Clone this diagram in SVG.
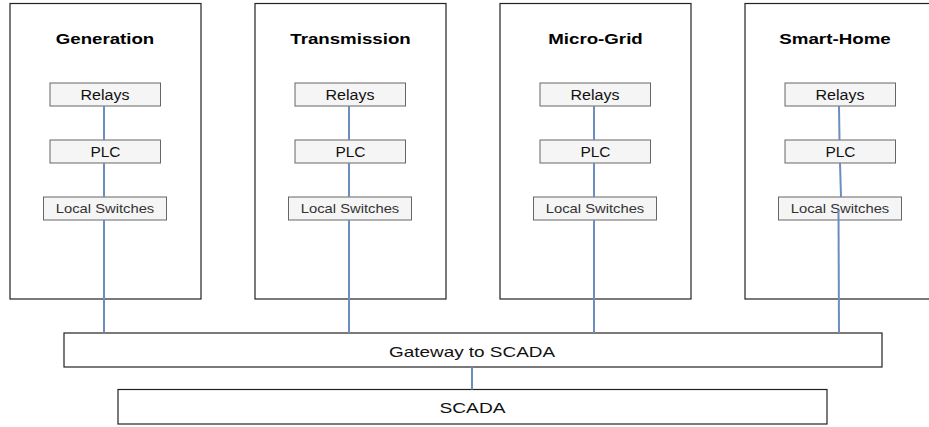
<svg xmlns="http://www.w3.org/2000/svg" width="929" height="427" viewBox="0 0 929 427">
<style>
.zone{fill:#fff;stroke:#222;stroke-width:1.2}
.dev{fill:#f5f5f5;stroke:#666;stroke-width:1}
.bar{fill:#fff;stroke:#222;stroke-width:1.2}
text{font-family:"Liberation Sans",Arial,sans-serif;text-anchor:middle}
.title{font-size:15px;font-weight:bold;fill:#000}
.lbl{font-size:14px;fill:#111}
.sm{font-size:13.5px;fill:#333}
.big{font-size:15px;fill:#111}
.link{stroke:#6c8ebf;stroke-width:2;fill:none}
</style>
<rect width="929" height="427" fill="#fff"/>
<g id="generation">
<rect class="zone" x="10" y="3.5" width="191" height="295.5"/>
<text class="title" x="105" y="43.5" textLength="98.5" lengthAdjust="spacingAndGlyphs">Generation</text>
</g>
<g id="generation-relays"><rect class="dev" x="50" y="83" width="110.5" height="23"/><text class="lbl" x="105" y="100" textLength="49" lengthAdjust="spacingAndGlyphs">Relays</text></g>
<g id="generation-plc"><rect class="dev" x="50" y="140" width="110.5" height="23"/><text class="lbl" x="105.5" y="157" textLength="30" lengthAdjust="spacingAndGlyphs">PLC</text></g>
<g id="generation-switches"><rect class="dev" x="43.5" y="197" width="123" height="23"/><text class="sm" x="105" y="213.3" textLength="98.5" lengthAdjust="spacingAndGlyphs">Local Switches</text></g>

<g id="transmission">
<rect class="zone" x="255" y="3.5" width="191" height="295.5"/>
<text class="title" x="350.5" y="43.5" textLength="120.5" lengthAdjust="spacingAndGlyphs">Transmission</text>
</g>
<g id="transmission-relays"><rect class="dev" x="295" y="83" width="110.5" height="23"/><text class="lbl" x="350" y="100" textLength="49" lengthAdjust="spacingAndGlyphs">Relays</text></g>
<g id="transmission-plc"><rect class="dev" x="295" y="140" width="110.5" height="23"/><text class="lbl" x="350.5" y="157" textLength="30" lengthAdjust="spacingAndGlyphs">PLC</text></g>
<g id="transmission-switches"><rect class="dev" x="288.5" y="197" width="123" height="23"/><text class="sm" x="350" y="213.3" textLength="98.5" lengthAdjust="spacingAndGlyphs">Local Switches</text></g>

<g id="microgrid">
<rect class="zone" x="500" y="3.5" width="191" height="295.5"/>
<text class="title" x="595.5" y="43.5" textLength="94.5" lengthAdjust="spacingAndGlyphs">Micro-Grid</text>
</g>
<g id="microgrid-relays"><rect class="dev" x="540" y="83" width="110.5" height="23"/><text class="lbl" x="595" y="100" textLength="49" lengthAdjust="spacingAndGlyphs">Relays</text></g>
<g id="microgrid-plc"><rect class="dev" x="540" y="140" width="110.5" height="23"/><text class="lbl" x="595.5" y="157" textLength="30" lengthAdjust="spacingAndGlyphs">PLC</text></g>
<g id="microgrid-switches"><rect class="dev" x="533.5" y="197" width="123" height="23"/><text class="sm" x="595" y="213.3" textLength="98.5" lengthAdjust="spacingAndGlyphs">Local Switches</text></g>

<g id="smarthome">
<rect class="zone" x="745" y="3.5" width="191" height="295.5"/>
<text class="title" x="835" y="43.5" textLength="111.5" lengthAdjust="spacingAndGlyphs">Smart-Home</text>
</g>
<g id="smarthome-relays"><rect class="dev" x="785" y="83" width="110.5" height="23"/><text class="lbl" x="840" y="100" textLength="49" lengthAdjust="spacingAndGlyphs">Relays</text></g>
<g id="smarthome-plc"><rect class="dev" x="785" y="140" width="110.5" height="23"/><text class="lbl" x="840.5" y="157" textLength="30" lengthAdjust="spacingAndGlyphs">PLC</text></g>
<g id="smarthome-switches"><rect class="dev" x="778.5" y="197" width="123" height="23"/><text class="sm" x="840" y="213.3" textLength="98.5" lengthAdjust="spacingAndGlyphs">Local Switches</text></g>

<g id="gateway">
<rect class="bar" x="64" y="333" width="818" height="34"/>
<text class="big" x="472" y="356.7" textLength="166" lengthAdjust="spacingAndGlyphs">Gateway to SCADA</text>
</g>
<g id="scada">
<rect class="bar" x="118" y="389.5" width="709" height="34.5"/>
<text class="big" x="472.5" y="412.7" textLength="66" lengthAdjust="spacingAndGlyphs">SCADA</text>
</g>

<g id="connectors">
<line class="link" x1="104" y1="106" x2="104" y2="140"/>
<line class="link" x1="104" y1="163" x2="104" y2="197"/>
<line class="link" x1="104" y1="220" x2="104" y2="333"/>
<line class="link" x1="349" y1="106" x2="349" y2="140"/>
<line class="link" x1="349" y1="163" x2="349" y2="197"/>
<line class="link" x1="349" y1="220" x2="349" y2="333"/>
<line class="link" x1="594" y1="106" x2="594" y2="140"/>
<line class="link" x1="594" y1="163" x2="594" y2="197"/>
<line class="link" x1="594" y1="220" x2="594" y2="333"/>
<line class="link" x1="839" y1="106" x2="839.5" y2="140"/>
<line class="link" x1="840" y1="163" x2="841" y2="197"/>
<line class="link" x1="838.5" y1="210" x2="839" y2="333"/>
<line class="link" x1="472" y1="367" x2="472" y2="389.5"/>
</g>
</svg>
